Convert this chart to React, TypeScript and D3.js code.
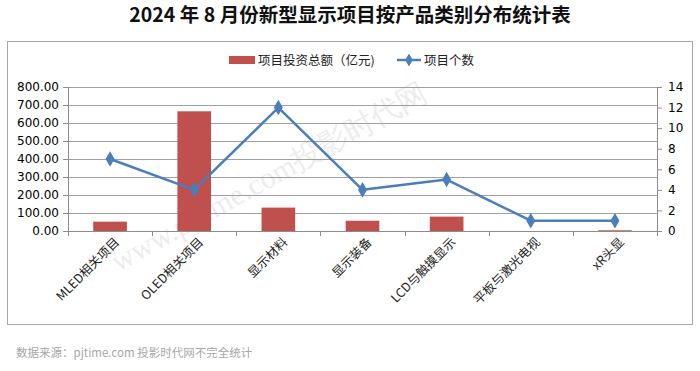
import * as d3 from "d3";
import {useEffect, useRef} from "react";

const categories = ["MLED相关项目", "OLED相关项目", "显示材料", "显示装备", "LCD与触摸显示", "平板与激光电视", "xR头显"];
const investment = [52, 665, 130, 57, 80, 0, 4];
const projectCount = [7, 4, 12, 4, 5, 1, 1];
const leftTicks = [0, 100, 200, 300, 400, 500, 600, 700, 800];
const rightTicks = [0, 2, 4, 6, 8, 10, 12, 14];

const W = 700, H = 371;
const CJK = "'Noto Sans CJK SC', 'Noto Sans', sans-serif";

export default function App() {
    const svgRef = useRef(null);

    useEffect(() => {
        if (!svgRef.current) return;
        const svg = d3.select(svgRef.current);
        svg.selectAll("*").remove();

        const plot = {left: 68, right: 657, top: 87, bottom: 231};

        const x = d3.scaleBand().domain(categories).range([plot.left, plot.right]);
        const yL = d3.scaleLinear().domain([0, 800]).range([plot.bottom, plot.top]);
        const yR = d3.scaleLinear().domain([0, 14]).range([plot.bottom, plot.top]);

        svg.append("rect").attr("width", W).attr("height", H).attr("fill", "#fff");

        // title
        svg.append("text")
            .attr("x", W / 2).attr("y", 22)
            .attr("text-anchor", "middle")
            .attr("font-family", CJK).attr("font-weight", "bold").attr("font-size", 19.5)
            .attr("fill", "#111")
            .text("2024 年 8 月份新型显示项目按产品类别分布统计表");

        // chart frame
        svg.append("rect")
            .attr("x", 7.5).attr("y", 41.5).attr("width", 685).attr("height", 283)
            .attr("fill", "none").attr("stroke", "#a6a6a6");

        // watermark
        svg.append("text")
            .attr("transform", "translate(118,272) rotate(-29)")
            .attr("font-family", "'Liberation Serif', serif").attr("font-size", 30)
            .attr("fill", "#000").attr("opacity", 0.07)
            .text("www.pjtime.com投影时代网");

        // grid lines
        svg.append("g").selectAll("line").data(leftTicks).join("line")
            .attr("x1", plot.left).attr("x2", plot.right)
            .attr("y1", d => Math.round(yL(d)) + 0.5).attr("y2", d => Math.round(yL(d)) + 0.5)
            .attr("stroke", "#a0a0a0").attr("stroke-width", 1);

        // left axis
        const gL = svg.append("g").attr("transform", `translate(${plot.left},0)`)
            .call(d3.axisLeft(yL).tickValues(leftTicks).tickFormat(d3.format(".2f")).tickSizeOuter(0).tickSize(5));
        gL.select(".domain").attr("stroke", "#8c8c8c");
        gL.selectAll(".tick line").attr("stroke", "#8c8c8c");
        gL.selectAll("text").attr("font-family", "'DejaVu Sans', sans-serif")
            .attr("font-size", 12).attr("fill", "#000").attr("x", -9);

        // right axis
        const gR = svg.append("g").attr("transform", `translate(${plot.right},0)`)
            .call(d3.axisRight(yR).tickValues(rightTicks).tickSizeOuter(0).tickSize(5));
        gR.select(".domain").attr("stroke", "#8c8c8c");
        gR.selectAll(".tick line").attr("stroke", "#8c8c8c");
        gR.selectAll("text").attr("font-family", "'DejaVu Sans', sans-serif")
            .attr("font-size", 12).attr("fill", "#000").attr("x", 11);

        // x axis
        svg.append("line")
            .attr("x1", plot.left).attr("x2", plot.right)
            .attr("y1", plot.bottom + 0.5).attr("y2", plot.bottom + 0.5)
            .attr("stroke", "#8c8c8c");
        const bounds = categories.map(c => x(c)!).concat([plot.right]);
        svg.append("g").selectAll("line").data(bounds).join("line")
            .attr("x1", d => Math.round(d) + 0.5).attr("x2", d => Math.round(d) + 0.5)
            .attr("y1", plot.bottom).attr("y2", plot.bottom + 5)
            .attr("stroke", "#8c8c8c");

        svg.append("g").selectAll("text").data(categories).join("text")
            .attr("transform", d => `translate(${x(d)! + x.bandwidth() / 2 + 10},${plot.bottom + 12}) rotate(-45)`)
            .attr("text-anchor", "end")
            .attr("font-family", CJK).attr("font-size", 12.5).attr("fill", "#222")
            .text(d => d);

        // bars
        const bw = x.bandwidth() * 0.4;
        svg.append("g").selectAll("rect").data(investment).join("rect")
            .attr("x", (d, i) => x(categories[i])! + (x.bandwidth() - bw) / 2)
            .attr("y", d => yL(d))
            .attr("width", bw)
            .attr("height", d => plot.bottom - yL(d))
            .attr("fill", "#c0504d");

        // line
        const cx = (i: number) => x(categories[i])! + x.bandwidth() / 2;
        const line = d3.line<number>().x((d, i) => cx(i)).y(d => yR(d));
        svg.append("path").datum(projectCount)
            .attr("d", line)
            .attr("fill", "none").attr("stroke", "#4a7ebb").attr("stroke-width", 2.5)
            .attr("stroke-linejoin", "round");
        const diamond = d3.symbol().type(d3.symbolDiamond).size(70);
        svg.append("g").selectAll("path").data(projectCount).join("path")
            .attr("transform", (d, i) => `translate(${cx(i)},${yR(d)})`)
            .attr("d", diamond)
            .attr("fill", "#4a7ebb");

        // legend
        const lg = svg.append("g").attr("font-family", CJK).attr("font-size", 12.5).attr("fill", "#222");
        lg.append("rect").attr("x", 229).attr("y", 56).attr("width", 26).attr("height", 8).attr("fill", "#c0504d");
        lg.append("text").attr("x", 258).attr("y", 65).text("项目投资总额（亿元)");
        lg.append("line").attr("x1", 397).attr("x2", 421).attr("y1", 60).attr("y2", 60)
            .attr("stroke", "#4a7ebb").attr("stroke-width", 2.5);
        lg.append("path").attr("transform", "translate(409,60)").attr("d", d3.symbol().type(d3.symbolDiamond).size(50)).attr("fill", "#4a7ebb");
        lg.append("text").attr("x", 424).attr("y", 65).text("项目个数");

        // source note
        svg.append("text")
            .attr("x", 16).attr("y", 357)
            .attr("font-family", CJK).attr("font-size", 11.5).attr("fill", "#a6a6a6")
            .text("数据来源：pjtime.com 投影时代网不完全统计");
    }, []);

    return (
        <div style={{position: "absolute", left: 0, top: 0}}>
            <svg ref={svgRef} width={W} height={H} style={{display: "block"}}></svg>
        </div>
    );
}
